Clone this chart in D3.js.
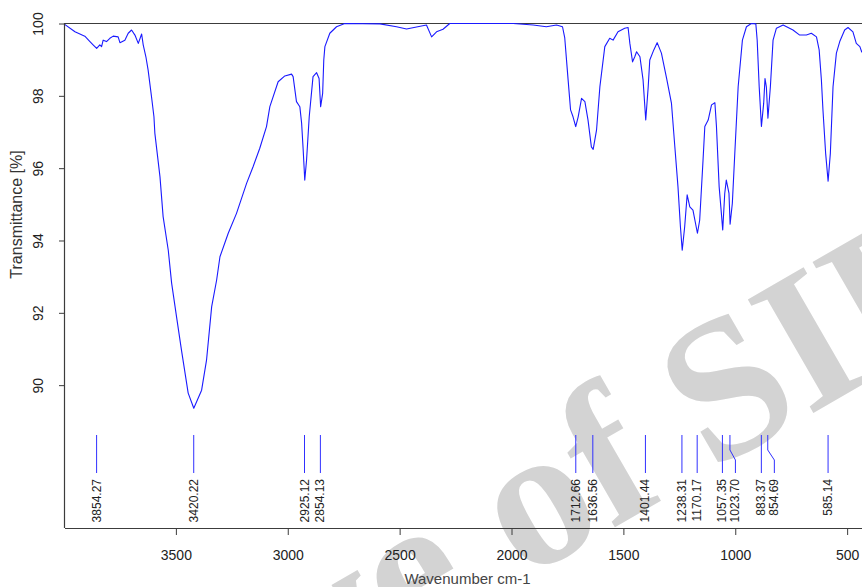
<!DOCTYPE html>
<html>
<head>
<meta charset="utf-8">
<script src="https://cdn.jsdelivr.net/npm/d3@7"></script>
<style>
  html, body { margin: 0; padding: 0; background: #fff; }
  svg { display: block; }
</style>
</head>
<body>
<svg id="chart" width="862" height="587"></svg>
<script>
// ---------------- data ----------------
const wavenumbers = [3998,3951,3907,3884,3870,3854,3840,3832,3825,3810,3795,3780,3758,3750,3728,3713,3698,3683,3668,3653,3646,3634,3624,3609,3598,3594,3571,3557,3534,3519,3497,3475,3445,3420,3385,3363,3340,3318,3303,3266,3229,3184,3155,3125,3095,3080,3043,3013,2983,2976,2961,2946,2938,2931,2924,2916,2904,2887,2871,2860,2853,2844,2839,2834,2812,2782,2745,2588,2514,2469,2380,2357,2335,2306,2276,1993,1903,1844,1799,1772,1762,1747,1736,1725,1713,1702,1687,1672,1658,1643,1635,1620,1605,1583,1561,1546,1524,1494,1479,1471,1459,1449,1441,1426,1412,1400,1389,1382,1364,1349,1330,1307,1285,1270,1256,1245,1237,1226,1215,1203,1189,1169,1159,1144,1136,1121,1106,1091,1084,1072,1062,1056,1047,1040,1028,1023,1013,1002,987,968,950,928,908,902,893,883,873,867,861,854,843,831,816,786,742,712,682,660,637,625,615,608,596,585,575,563,548,533,511,496,474,459,443,435,420,400];
const transmittance = [99.98,99.77,99.65,99.50,99.41,99.31,99.41,99.36,99.54,99.50,99.59,99.65,99.63,99.47,99.54,99.73,99.82,99.68,99.45,99.71,99.41,99.08,98.71,97.98,97.42,96.97,95.76,94.66,93.73,92.82,91.89,90.97,89.78,89.36,89.86,90.69,92.17,92.90,93.55,94.20,94.75,95.58,96.04,96.55,97.15,97.70,98.39,98.55,98.60,98.53,97.84,97.70,97.24,96.50,95.67,96.22,97.42,98.53,98.64,98.48,97.70,98.07,98.99,99.36,99.73,99.91,100.0,99.99,99.91,99.85,99.96,99.63,99.77,99.84,100.0,100.0,99.96,99.91,99.96,99.91,99.60,98.44,97.61,97.42,97.15,97.42,97.93,97.84,97.33,96.59,96.52,97.05,98.25,99.36,99.59,99.54,99.77,99.87,99.89,99.45,98.94,99.08,99.22,99.08,98.44,97.33,98.25,98.99,99.27,99.47,99.18,98.49,97.79,96.59,95.49,94.38,93.73,94.38,95.26,94.93,94.84,94.20,94.56,96.22,97.15,97.33,97.75,97.81,97.15,95.49,94.75,94.29,95.30,95.67,95.30,94.45,95.03,96.41,98.25,99.54,99.91,100.0,99.99,99.54,98.25,97.15,97.79,98.48,98.25,97.38,98.25,99.54,99.87,99.96,99.82,99.68,99.68,99.73,99.63,99.27,98.44,97.61,96.41,95.64,96.41,98.25,99.18,99.50,99.82,99.89,99.77,99.45,99.36,99.22,99.10,98.95];

const peakLabels = ["3854.27","3420.22","2925.12","2854.13","1712.66","1636.56","1401.44","1238.31","1170.17","1057.35","1023.70","883.37","854.69","585.14"];
const xTickValues = [3500,3000,2500,2000,1500,1000,500];
const yTickValues = [90,92,94,96,98,100];
const xTitle = "Wavenumber cm-1";
const yTitle = "Transmittance [%]";
const watermarkText = "Archive of SID";

// ---------------- layout ----------------
const svg = d3.select("#chart");
const plotLeft = 65, plotTop = 23, plotBottom = 528;
const x = d3.scaleLinear().domain([4000, 400]).range([64, 869.5]);
const y = d3.scaleLinear().domain([86.05, 100]).range([plotBottom, 23.5]);
const axisColor = "#3c3c3c";

// watermark (behind everything)
svg.append("text")
  .attr("transform", "translate(1000,305) rotate(-30)")
  .attr("text-anchor", "end")
  .attr("font-family", "Liberation Serif, Times New Roman, serif")
  .attr("font-weight", "bold")
  .attr("font-size", 200)
  .attr("fill", "#d3d3d3")
  .text(watermarkText);

// clip
svg.append("clipPath").attr("id", "plotclip")
  .append("rect").attr("x", plotLeft).attr("y", plotTop).attr("width", 900).attr("height", plotBottom - plotTop);

// top frame line
svg.append("line").attr("x1", plotLeft).attr("x2", 862).attr("y1", plotTop + 0.5).attr("y2", plotTop + 0.5)
  .attr("stroke", axisColor).attr("stroke-width", 1.2);

// spectrum
const pts = wavenumbers.map((w, i) => [w, transmittance[i]]);
svg.append("path")
  .datum(pts)
  .attr("clip-path", "url(#plotclip)")
  .attr("fill", "none")
  .attr("stroke", "#1a1aff")
  .attr("stroke-width", 1.1)
  .attr("stroke-linejoin", "round")
  .attr("d", d3.line().x(d => x(d[0])).y(d => y(d[1])));

// peak markers
const fontSans = "Liberation Sans, Arial, sans-serif";
let prevLX = -100;
const peakG = svg.append("g");
peakLabels.forEach(lbl => {
  const w = parseFloat(lbl);
  const px = x(w);
  const lx = Math.max(px, prevLX + 13);
  prevLX = lx;
  const yTop = 435, yB1 = 450, yB2 = 460, yBot = 473;
  peakG.append("path")
    .attr("d", `M${px},${yTop}L${px},${yB1}L${lx},${yB2}L${lx},${yBot}`)
    .attr("fill", "none").attr("stroke", "#3030ff").attr("stroke-width", 1);
  peakG.append("text")
    .attr("transform", `translate(${lx + 4},479) rotate(-90)`)
    .attr("text-anchor", "end")
    .attr("font-family", fontSans)
    .attr("font-size", 12)
    .attr("fill", "#222")
    .text(lbl);
});

// y axis
const yAxis = d3.axisLeft(y).tickValues(yTickValues).tickSize(6).tickFormat(d3.format("d"));
const yg = svg.append("g").attr("transform", `translate(${plotLeft},0)`).call(yAxis);
yg.select(".domain").attr("stroke", axisColor).attr("stroke-width", 1.2)
  .attr("d", `M-0.5,${plotTop}V${plotBottom}`);
yg.selectAll(".tick line").attr("stroke", axisColor);
yg.selectAll(".tick text")
  .attr("x", null)
  .attr("transform", "translate(-27,0) rotate(-90)")
  .attr("text-anchor", "middle")
  .attr("dy", "0.35em")
  .attr("font-family", fontSans)
  .attr("font-size", 14)
  .attr("fill", "#222");

// x axis
const xAxis = d3.axisBottom(x).tickValues(xTickValues).tickSize(7).tickFormat(d3.format("d"));
const xg = svg.append("g").attr("transform", `translate(0,${plotBottom})`).call(xAxis);
xg.select(".domain").attr("stroke", axisColor).attr("stroke-width", 1.2)
  .attr("d", `M${plotLeft},0.5H862`);
xg.selectAll(".tick line").attr("stroke", axisColor);
xg.selectAll(".tick text")
  .attr("y", 32).attr("dy", null)
  .attr("font-family", fontSans)
  .attr("font-size", 14)
  .attr("fill", "#222");

// titles
svg.append("text")
  .attr("x", 467.5).attr("y", 584)
  .attr("text-anchor", "middle")
  .attr("font-family", fontSans)
  .attr("font-size", 15)
  .attr("fill", "#444")
  .text(xTitle);

svg.append("text")
  .attr("transform", "translate(22,214.5) rotate(-90)")
  .attr("text-anchor", "middle")
  .attr("font-family", fontSans)
  .attr("font-size", 16)
  .attr("fill", "#333")
  .text(yTitle);
</script>
</body>
</html>
